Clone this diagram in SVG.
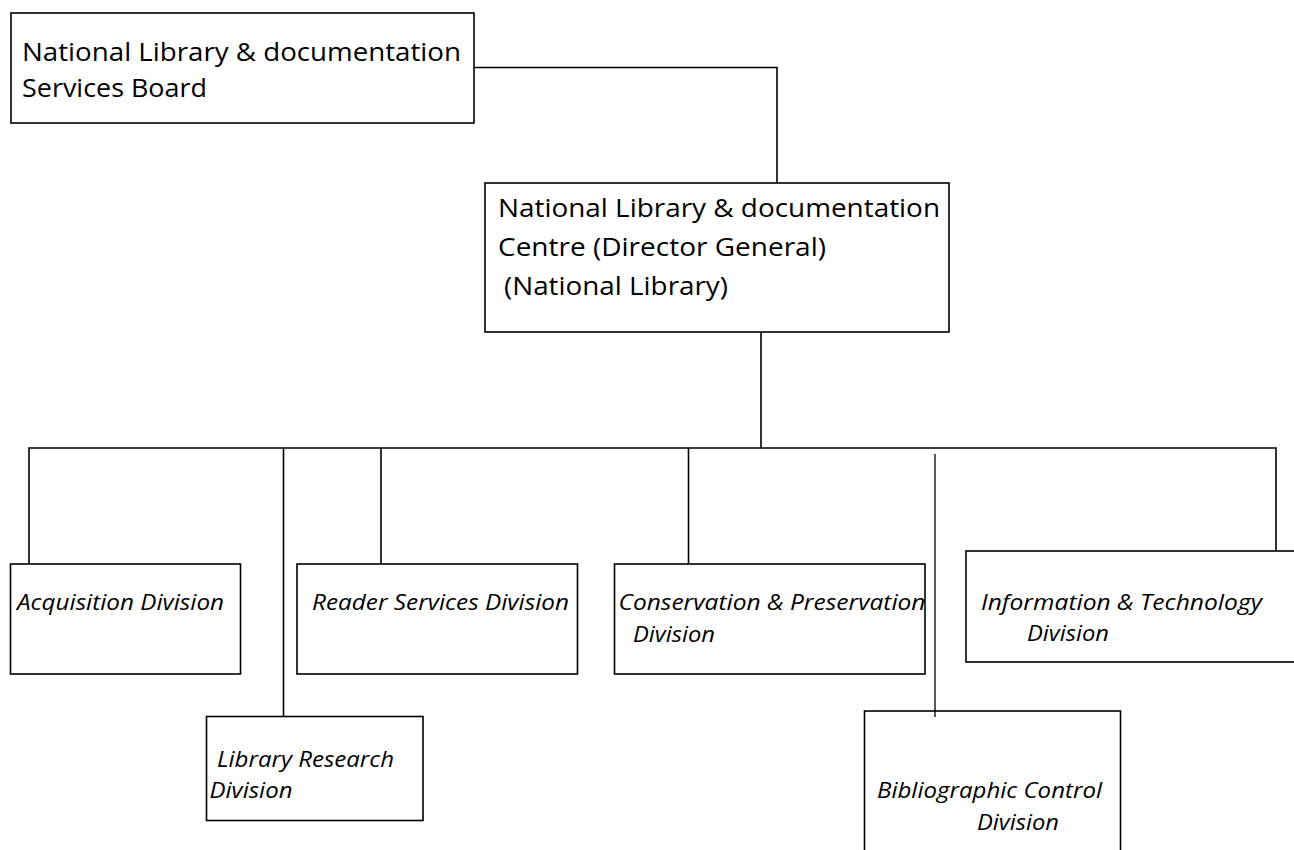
<svg xmlns="http://www.w3.org/2000/svg" width="1294" height="850" viewBox="0 0 1294 850">
<style>
.box{fill:#fff;stroke:#000;stroke-width:1.6}
.con{fill:none;stroke:#000;stroke-width:1.6}
.t{font-family:"Open Sans","Liberation Sans",sans-serif;font-size:26px;fill:#000}
.d{font-family:"Open Sans","Liberation Sans",sans-serif;font-size:22px;font-style:italic;fill:#000}
</style>
<rect width="1294" height="850" fill="#fff"/>
<g id="connectors">
<path class="con" d="M474 67.5 H777 V183"/>
<path class="con" d="M761 332 V448"/>
<path class="con" d="M29 564 V448 H1276 V551"/>
<path class="con" d="M283.5 448 V716.5"/>
<path class="con" d="M381 448 V564"/>
<path class="con" d="M688.5 448 V564"/>
</g>
<g id="board">
<rect class="box" x="11" y="13" width="463" height="110"/>
<text class="t" x="22" y="61" textLength="439" lengthAdjust="spacingAndGlyphs">National Library &amp; documentation</text>
<text class="t" x="22" y="97" textLength="185" lengthAdjust="spacingAndGlyphs">Services Board</text>
</g>
<g id="centre">
<rect class="box" x="485" y="183" width="464" height="149"/>
<text class="t" x="498" y="217" textLength="442" lengthAdjust="spacingAndGlyphs">National Library &amp; documentation</text>
<text class="t" x="498" y="256" textLength="328" lengthAdjust="spacingAndGlyphs">Centre (Director General)</text>
<text class="t" x="504" y="295" textLength="224" lengthAdjust="spacingAndGlyphs">(National Library)</text>
</g>
<g id="acquisition">
<rect class="box" x="10.5" y="564" width="230" height="110"/>
<text class="d" x="17" y="610" textLength="207" lengthAdjust="spacingAndGlyphs">Acquisition Division</text>
</g>
<g id="reader">
<rect class="box" x="297" y="564" width="280.5" height="110"/>
<text class="d" x="312" y="610" textLength="257" lengthAdjust="spacingAndGlyphs">Reader Services Division</text>
</g>
<g id="research">
<rect class="box" x="206.5" y="716.5" width="216.5" height="104"/>
<text class="d" x="217" y="767" textLength="177" lengthAdjust="spacingAndGlyphs">Library Research</text>
<text class="d" x="209.5" y="798" textLength="83" lengthAdjust="spacingAndGlyphs">Division</text>
</g>
<g id="conservation">
<rect class="box" x="614.5" y="564" width="310.5" height="110"/>
<text class="d" x="618.5" y="610" textLength="307" lengthAdjust="spacingAndGlyphs">Conservation &amp; Preservation</text>
<text class="d" x="633" y="642" textLength="82" lengthAdjust="spacingAndGlyphs">Division</text>
</g>
<g id="information">
<rect class="box" x="966" y="551" width="340" height="111"/>
<text class="d" x="981" y="610" textLength="281" lengthAdjust="spacingAndGlyphs">Information &amp; Technology</text>
<text class="d" x="1027" y="641" textLength="82" lengthAdjust="spacingAndGlyphs">Division</text>
</g>
<g id="bibliographic">
<rect class="box" x="864.5" y="711" width="256" height="160"/>
<text class="d" x="877" y="798" textLength="225" lengthAdjust="spacingAndGlyphs">Bibliographic Control</text>
<text class="d" x="977" y="830" textLength="82" lengthAdjust="spacingAndGlyphs">Division</text>
</g>
<g id="connectors-over">
<path class="con" d="M935 454 V717" style="stroke-width:1.3"/>
</g>
</svg>
